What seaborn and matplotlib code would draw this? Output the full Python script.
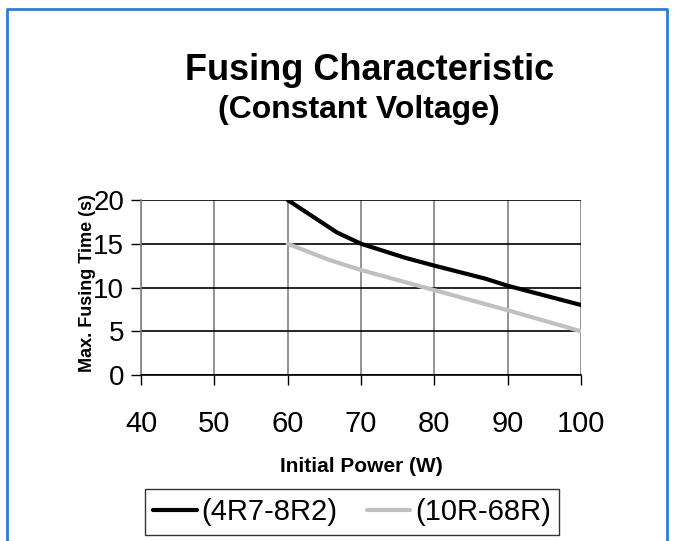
import matplotlib
matplotlib.use("Agg")
import matplotlib.pyplot as plt
from matplotlib.lines import Line2D
import seaborn as sns
import pandas as pd

# Data
power_a = [60, 66.7, 70, 76, 80, 87, 90, 95, 100]
time_a = [20, 16.3, 15, 13.4, 12.5, 11.0, 10.2, 9.1, 8.0]
power_b = [60, 65.5, 70, 80, 90, 100]
time_b = [15, 13.2, 12.0, 9.7, 7.4, 5.0]
series_names = ["(4R7-8R2)", "(10R-68R)"]
x_ticks = [40, 50, 60, 70, 80, 90, 100]
y_ticks = [0, 5, 10, 15, 20]

df = pd.concat([
    pd.DataFrame({"power": power_a, "time": time_a, "series": series_names[0]}),
    pd.DataFrame({"power": power_b, "time": time_b, "series": series_names[1]}),
])

sns.set_style("white")
plt.rcParams['font.family'] = ['Liberation Sans', 'DejaVu Sans']
plt.rcParams['text.color'] = 'black'
plt.rcParams['axes.labelcolor'] = 'black'
plt.rcParams['xtick.color'] = 'black'
plt.rcParams['ytick.color'] = 'black'

fig = plt.figure(figsize=(6.73, 5.41), dpi=100)
ax = fig.add_axes([141/673, 1-375/541, 440/673, 175/541])

sns.lineplot(data=df, x="power", y="time", hue="series",
             palette={series_names[0]: "black", series_names[1]: "#c0c0c0"},
             linewidth=3, ax=ax, legend=False, sort=False)

ax.set_xlim(40, 100)
ax.set_ylim(0, 20)
ax.set_xticks(x_ticks)
ax.set_yticks(y_ticks)
ax.tick_params(axis="x", labelsize=21, direction="out", length=7, width=1,
               colors="black", bottom=True, pad=18)
ax.tick_params(axis="y", labelsize=20, direction="out", length=7, width=1,
               colors="black", left=True, pad=5)
for xv in x_ticks:
    ax.axvline(xv, color="#808080", lw=1.2, zorder=0)
for yv in y_ticks:
    ax.axhline(yv, color="black", lw=1.2, zorder=0.5)
for s in ["top", "right"]:
    ax.spines[s].set_visible(False)
ax.spines["left"].set_color("#808080")
ax.spines["left"].set_linewidth(1.2)
ax.spines["bottom"].set_color("black")
ax.spines["bottom"].set_linewidth(1.2)

ax.set_xlabel("Initial Power (W)", fontsize=15, fontweight="bold")
ax.set_ylabel("Max. Fusing Time (s)", fontsize=13, fontweight="bold")
ax.xaxis.set_label_coords(0.5, (375 - 467) / 175, transform=ax.transAxes)
ax.xaxis.label.set_va("center")
ax.yaxis.set_label_coords((87 - 141) / 440, (375 - 283) / 175, transform=ax.transAxes)
ax.yaxis.label.set_va("center")

fig.text(370/673, 1-70/541, "Fusing Characteristic", ha="center", va="center",
         fontsize=26, fontweight="bold")
fig.text(359/673, 1-110/541, "(Constant Voltage)", ha="center", va="center",
         fontsize=23, fontweight="bold")

handles = [Line2D([0], [0], color="black", lw=3),
           Line2D([0], [0], color="#c0c0c0", lw=3)]
leg = fig.legend(handles, series_names, loc="center", ncol=2,
                 bbox_to_anchor=(352/673, 1-512/541), fontsize=21,
                 frameon=True, fancybox=False, edgecolor="black",
                 handlelength=1.5, handletextpad=0.15, columnspacing=1.0,
                 borderpad=0.3, borderaxespad=0)
leg.get_frame().set_linewidth(1.0)

# blue border
border = Line2D([7/673, 7/673, 667/673, 667/673],
                [0, 1-9/541, 1-9/541, 0], transform=fig.transFigure,
                color="#2f7bd6", lw=2)
fig.add_artist(border)

fig.savefig("out.png", dpi=100)
